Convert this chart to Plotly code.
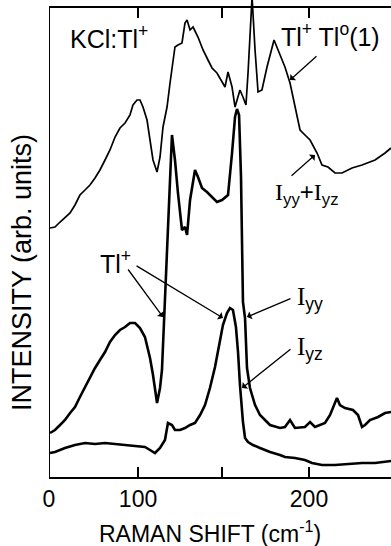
import plotly.graph_objects as go

# Raman spectra of KCl:Tl+ (intensity in arbitrary units, stacked offsets)
shift_sum = [0.8, 4.6, 8.5, 12.3, 16.2, 20.0, 23.8, 27.7, 31.5, 35.4, 39.2, 43.1, 46.9, 50.8,
             54.6, 58.5, 62.3, 64.6, 67.7, 70.0, 72.3, 75.4, 77.7, 80.0, 83.1, 85.4, 87.7, 90.8,
             93.1, 96.9, 99.2, 102.3, 104.6, 106.2, 108.5, 110.8, 114.6, 118.5, 122.3, 125.4,
             129.2, 133.1, 135.4, 137.7, 140.8, 143.1, 146.9, 149.2, 151.5, 153.1, 156.2, 158.5,
             160.8, 163.8, 167.7, 173.1, 176.2, 181.5, 185.4, 189.2, 193.1, 196.9, 200.8, 206.2,
             210.0, 214.6, 220.0, 225.4, 233.1, 240.8, 250.8, 258.5, 263.1]
int_sum = [249, 250, 255, 259, 264, 272, 282, 287, 292, 299, 307, 317, 327, 340,
           349, 354, 362, 372, 377, 377, 370, 357, 337, 317, 305, 320, 350, 370,
           394, 430, 432, 434, 454, 457, 447, 450, 440, 427, 417, 409,
           404, 395, 390, 405, 390, 370, 387, 380, 372, 404, 480, 427,
           385, 387, 410, 437, 427, 410, 394, 370, 347, 342, 337, 324,
           312, 310, 304, 304, 309, 312, 317, 324, 329]

shift_yy = [0.8, 4.6, 8.5, 12.3, 16.2, 20.0, 23.8, 27.7, 31.5, 35.4, 39.2, 43.1, 46.9, 50.8,
            54.6, 58.5, 62.3, 66.2, 70.0, 73.8, 77.7, 80.0, 83.1, 85.4, 86.9, 88.5, 90.0, 91.5,
            93.1, 94.6, 96.9, 99.2, 102.3, 104.6, 106.2, 108.5, 110.8, 112.3, 114.6, 117.7,
            121.5, 125.4, 129.2, 133.1, 135.4, 137.7, 140.8, 143.1, 144.6, 146.2, 147.7, 148.5,
            149.2, 150.8, 152.3, 154.6, 158.5, 162.3, 170.0, 177.7, 181.5, 185.4, 189.2, 196.9,
            200.8, 204.6, 212.3, 216.2, 218.5, 221.5, 223.8, 227.7, 233.8, 237.7, 240.8, 243.1,
            246.9, 253.1, 258.5, 263.1]
int_yy = [44, 47, 52, 57, 64, 70, 80, 90, 100, 109, 117, 125, 135, 142,
          147, 150, 154, 154, 149, 140, 119, 102, 74, 89, 107, 159, 215, 255,
          297, 342, 317, 284, 247, 250, 242, 277, 297, 307, 300, 289,
          285, 280, 275, 277, 280, 282, 324, 360, 368, 362, 300, 237,
          175, 159, 109, 89, 72, 62, 52, 49, 50, 57, 49, 50,
          55, 50, 54, 62, 70, 79, 72, 69, 67, 62, 50, 52,
          57, 60, 64, 65]

shift_yz = [0.8, 4.6, 12.3, 20.0, 27.7, 35.4, 43.1, 50.8, 58.5, 66.2, 73.8, 77.7, 81.5, 85.4,
            89.2, 91.5, 94.6, 96.9, 100.8, 104.6, 108.5, 112.3, 116.2, 120.0, 123.8, 127.7,
            131.5, 133.8, 136.9, 139.2, 141.5, 143.8, 145.4, 146.9, 149.2, 150.8, 153.1, 156.9,
            162.3, 170.0, 177.7, 181.5, 189.2, 196.9, 202.3, 210.0, 220.0, 230.0, 240.8, 250.8,
            263.1]
int_yz = [24, 25, 29, 32, 34, 33, 34, 33, 32, 31, 30, 27, 24, 29,
          37, 54, 52, 47, 47, 49, 52, 54, 62, 72, 89, 110,
          135, 152, 164, 169, 167, 150, 125, 92, 55, 39, 35, 32,
          29, 25, 22, 20, 19, 17, 14, 12, 12, 13, 14, 14,
          16]

tick_values = [0, 68.5, 133.1, 200]
tick_text = ["0", "100", "", "200"]

X_MAX = 263.08
Y_MAX = 477
FRAME_TOP = 470

FONT = "Liberation Sans, Arial, sans-serif"
SERIF_I = '<span style="font-family:Liberation Serif">I</span>'

fig = go.Figure()
fig.add_trace(go.Scatter(x=shift_sum, y=int_sum, mode="lines",
                         line=dict(color="black", width=1.7), hoverinfo="skip"))
fig.add_trace(go.Scatter(x=shift_yy, y=int_yy, mode="lines",
                         line=dict(color="black", width=2.6), hoverinfo="skip"))
fig.add_trace(go.Scatter(x=shift_yz, y=int_yz, mode="lines",
                         line=dict(color="black", width=2.6), hoverinfo="skip"))
# invisible carrier so the top frame axis is rendered
fig.add_trace(go.Scatter(x=[0], y=[0], xaxis="x2", mode="markers",
                         marker=dict(opacity=0), hoverinfo="skip"))

axis_common = dict(range=[0, X_MAX], tickvals=tick_values, ticks="inside", ticklen=10,
                   tickwidth=2, tickcolor="black", showline=True, linewidth=2,
                   linecolor="black", showgrid=False, zeroline=False)

fig.update_layout(
    width=391, height=546,
    margin=dict(l=49, r=0, t=0, b=69),
    paper_bgcolor="white", plot_bgcolor="white",
    showlegend=False,
    font=dict(family=FONT, color="black"),
    xaxis=dict(**axis_common, ticktext=tick_text, tickfont=dict(size=23, family=FONT),
               ticklabelstandoff=0),
    xaxis2=dict(**axis_common, overlaying="x", matches="x", anchor="free",
                position=FRAME_TOP / Y_MAX, side="top", showticklabels=False),
    yaxis=dict(range=[0, Y_MAX], showline=False, showticklabels=False, ticks="",
               showgrid=False, zeroline=False),
)

# left frame edge
fig.add_shape(type="line", xref="x", yref="y", x0=0, x1=0, y0=0, y1=FRAME_TOP,
              line=dict(color="black", width=2))

def label(x, y, text, size=25, xanchor="center"):
    fig.add_annotation(x=x, y=y, xref="x", yref="y", text=text, showarrow=False,
                       xanchor=xanchor, yanchor="middle", font=dict(size=size, family=FONT))

def pointer(x_tail, y_tail, x_tip, y_tip):
    fig.add_annotation(x=x_tip, y=y_tip, ax=x_tail, ay=y_tail, xref="x", yref="y",
                       axref="x", ayref="y", text="", showarrow=True, arrowhead=1,
                       arrowsize=1.1, arrowwidth=1.3, arrowcolor="black")

label(14.6, 440, "KCl:Tl<sup>+</sup>", xanchor="left")
label(216.9, 442, "Tl<sup>+</sup> Tl<sup>o</sup>(1)")
label(198.5, 284, f"{SERIF_I}<sub>yy</sub>+{SERIF_I}<sub>yz</sub>", size=24)
label(51.5, 215, "Tl<sup>+</sup>")
label(189.2, 179, f"{SERIF_I}<sub>yy</sub>", size=25, xanchor="left")
label(189.2, 129, f"{SERIF_I}<sub>yz</sub>", size=25, xanchor="left")

pointer(206.9, 422, 185.4, 397)
pointer(185.4, 300, 204.6, 322)
pointer(60.0, 209, 87.7, 160)
pointer(66.2, 212, 133.8, 159)
pointer(186.9, 179, 152.3, 160)
pointer(186.9, 129, 148.5, 89)

# axis titles
fig.add_annotation(xref="paper", yref="paper", x=(210 - 49) / 342, y=(546 - 532 - 69) / 477,
                   text="RAMAN SHIFT (cm<sup>-1</sup>)", showarrow=False,
                   xanchor="center", yanchor="middle", font=dict(size=23, family=FONT))
fig.add_annotation(xref="paper", yref="paper", x=(22 - 49) / 342, y=(477 - 273) / 477,
                   text="INTENSITY (arb. units)", textangle=-90, showarrow=False,
                   xanchor="center", yanchor="middle", font=dict(size=27, family=FONT))

fig.write_html("out.html")
